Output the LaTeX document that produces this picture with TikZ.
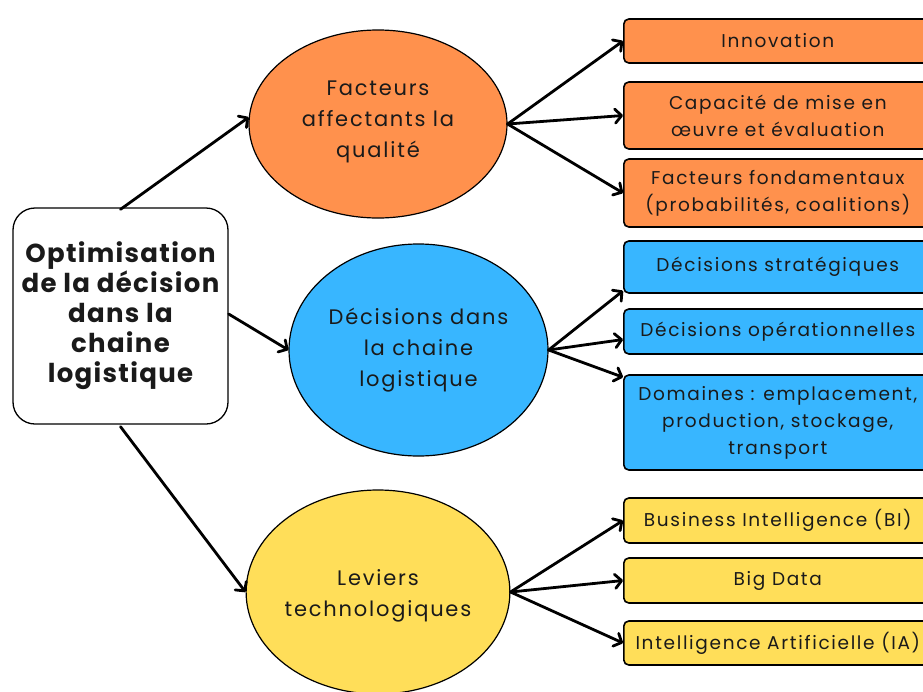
\documentclass[tikz,border=0pt]{standalone}
\usepackage{fontspec}
\setmainfont{Poppins}
\newfontfamily\themefont[LetterSpace=8.5]{Poppins}
\newfontfamily\itemfont[LetterSpace=9]{Poppins}
\newfontfamily\mainfont[LetterSpace=5]{Poppins}
\usetikzlibrary{arrows.meta,shapes.geometric}

\definecolor{qualorange}{HTML}{FF914D}
\definecolor{decblue}{HTML}{38B6FF}
\definecolor{levyellow}{HTML}{FFDE59}
\definecolor{ink}{HTML}{1A1A1A}

\begin{document}
\begin{tikzpicture}[x=1pt,y=-1pt,
    theme/.style={ellipse, draw, line width=1.2pt, inner sep=0pt, align=center, text=ink,
        minimum width=258pt, font=\themefont\fontsize{21}{31}\selectfont},
    item/.style={draw, line width=1.6pt, rounded corners=5pt, anchor=west, align=center,
        text=ink, minimum width=308pt, inner sep=0pt, font=\itemfont\fontsize{18.5}{27}\selectfont},
    link/.style={line width=2.8pt, line cap=round,
        -{Straight Barb[length=6.5pt,width=14pt,line cap=round,line join=round]}}]
    \clip (0,0) rectangle (923,691);

    \node[draw, line width=1.3pt, rounded corners=22pt, minimum width=215pt, minimum height=216pt,
        align=center, text=ink, font=\mainfont\bfseries\fontsize{26}{30}\selectfont] (main) at (120.5,316)
        {Optimisation\\de la décision\\dans la\\chaine\\logistique};

    \node[theme, fill=qualorange, minimum height=188pt] (fac) at (378,124)
        {Facteurs\\affectants la\\qualité\\[-22pt]};
    \node[theme, fill=decblue, minimum width=259pt, minimum height=212pt] (dec) at (418.5,350)
        {Décisions dans\\la chaine\\logistique};
    \node[theme, fill=levyellow, minimum height=204pt] (lev) at (378,592)
        {\\[-8pt]Leviers\\technologiques};

    \node[item, fill=qualorange, minimum height=44pt] (inno) at (623,41) {Innovation};
    \node[item, fill=qualorange, minimum height=67pt] (capa) at (623,115.5)
        {Capacité de mise en\\œuvre et évaluation};
    \node[item, fill=qualorange, minimum height=68pt] (fond) at (623,193)
        {Facteurs fondamentaux\\(probabilités, coalitions)};

    \node[item, fill=decblue, minimum height=52pt] (strat) at (623,267) {Décisions stratégiques};
    \node[item, fill=decblue, minimum height=45pt] (oper) at (623,331.5) {Décisions opérationnelles};
    \node[item, fill=decblue, minimum height=95pt] (dom) at (623,422.5)
        {Domaines : emplacement,\\production, stockage,\\transport};

    \node[item, fill=levyellow, minimum height=45pt] (bi) at (623,520.5) {Business Intelligence (BI)};
    \node[item, fill=levyellow, minimum height=45pt] (big) at (623,580.5) {Big Data};
    \node[item, fill=levyellow, minimum height=44pt] (ia) at (623,643) {Intelligence Artificielle (IA)};

    \draw[link] ([yshift=-2pt]main.north) -- (fac.177);
    \draw[link] ([yshift=2pt]main.east) -- (dec.west);
    \draw[link] ([yshift=-2pt]main.south) -- (lev.west);

    \draw[link] (fac.east) -- (inno.west);
    \draw[link] (fac.east) -- (capa.west);
    \draw[link] (fac.east) -- (fond.west);

    \draw[link] (dec.east) -- ([yshift=3pt]strat.south west);
    \draw[link] (dec.east) -- ([yshift=-8pt]oper.west);
    \draw[link] (dec.east) -- ([yshift=-3pt]dom.north west);

    \draw[link] (lev.east) -- (bi.west);
    \draw[link] (lev.east) -- (big.west);
    \draw[link] (lev.east) -- (ia.west);
\end{tikzpicture}
\end{document}
